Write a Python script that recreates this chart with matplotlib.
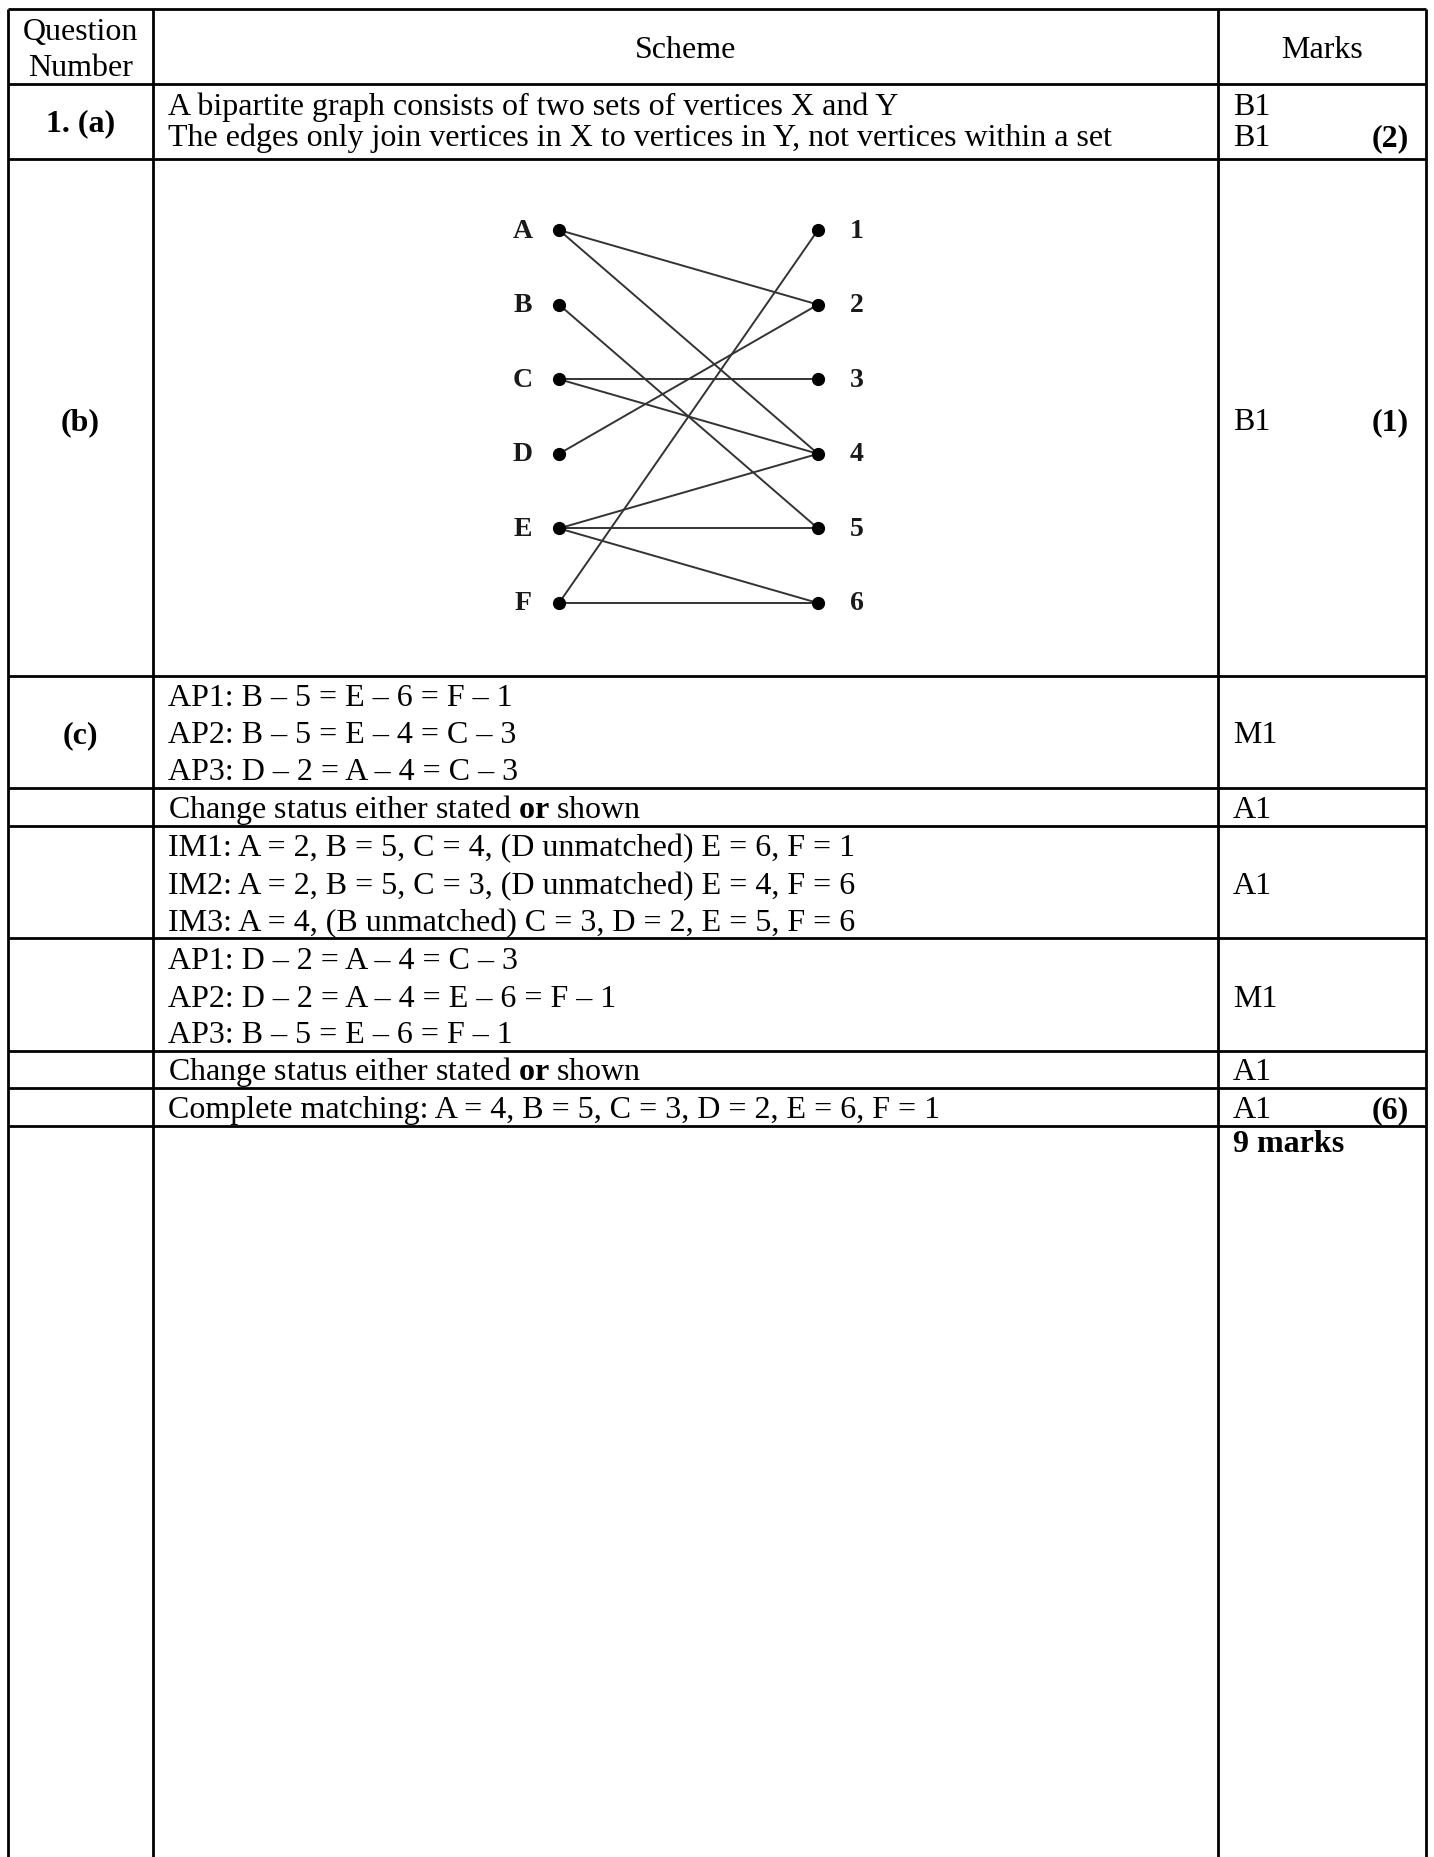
import matplotlib.pyplot as plt

plt.rcParams['font.family'] = ['Liberation Serif', 'DejaVu Serif']
plt.rcParams['mathtext.fontset'] = 'custom'
plt.rcParams['mathtext.rm'] = 'Liberation Serif'
plt.rcParams['mathtext.bf'] = 'Liberation Serif:bold'

# graph data
left_nodes = ['A', 'B', 'C', 'D', 'E', 'F']
right_nodes = ['1', '2', '3', '4', '5', '6']
edges = [('A', '2'), ('A', '4'), ('B', '5'), ('C', '3'), ('C', '4'), ('D', '2'),
         ('E', '4'), ('E', '5'), ('E', '6'), ('F', '1'), ('F', '6')]

# table text
headers = ['Question\nNumber', 'Scheme', 'Marks']
qnums = ['1. (a)', '(b)', '(c)']
scheme_lines = [
    'A bipartite graph consists of two sets of vertices X and Y',
    'The edges only join vertices in X to vertices in Y, not vertices within a set',
    'AP1: B – 5 = E – 6 = F – 1',
    'AP2: B – 5 = E – 4 = C – 3',
    'AP3: D – 2 = A – 4 = C – 3',
    r'Change status either stated $\mathbf{or}$ shown',
    'IM1: A = 2, B = 5, C = 4, (D unmatched) E = 6, F = 1',
    'IM2: A = 2, B = 5, C = 3, (D unmatched) E = 4, F = 6',
    'IM3: A = 4, (B unmatched) C = 3, D = 2, E = 5, F = 6',
    'AP1: D – 2 = A – 4 = C – 3',
    'AP2: D – 2 = A – 4 = E – 6 = F – 1',
    'AP3: B – 5 = E – 6 = F – 1',
    r'Change status either stated $\mathbf{or}$ shown',
    'Complete matching: A = 4, B = 5, C = 3, D = 2, E = 6, F = 1',
]
marks = ['B1', 'B1', 'B1', 'M1', 'A1', 'A1', 'M1', 'A1', 'A1']
totals = ['(2)', '(1)', '(6)']
grand_total = '9 marks'

# layout (pixels, y down)
W, H = 1434, 1858
col_x = [8, 153, 1218, 1426]
row_y = [10, 84.5, 159.5, 677, 789, 827, 939, 1052, 1089, 1127]
scheme_base = [115, 146, 706, 743, 780, 818, 856, 894, 931, 969, 1007, 1043, 1080, 1118]
marks_base = [115, 146, 430, 743, 818, 894, 1007, 1080, 1118]
totals_base = [146, 430, 1118]
qnum_base = [131, 430, 743]
FS = 23

fig = plt.figure(figsize=(W / 100, H / 100), dpi=100)
ax = fig.add_axes([0, 0, 1, 1])
ax.set_xlim(0, W)
ax.set_ylim(H, 0)
ax.axis('off')

lw = 2.0
for x in col_x:
    ax.plot([x, x], [row_y[0], H], color='black', lw=lw, solid_capstyle='butt')
for y in row_y:
    ax.plot([col_x[0], col_x[-1]], [y, y], color='black', lw=lw, solid_capstyle='butt')

# header
c1 = (col_x[0] + col_x[1]) / 2
c2 = (col_x[1] + col_x[2]) / 2
c3 = (col_x[2] + col_x[3]) / 2
ax.text(c1, 40, 'Question', ha='center', va='baseline', fontsize=FS)
ax.text(c1, 76, 'Number', ha='center', va='baseline', fontsize=FS)
ax.text(c2, 58, headers[1], ha='center', va='baseline', fontsize=FS)
ax.text(c3, 58, headers[2], ha='center', va='baseline', fontsize=FS)

for t, y in zip(qnums, qnum_base):
    ax.text(c1, y, t, ha='center', va='baseline', fontsize=FS, fontweight='bold')
for t, y in zip(scheme_lines, scheme_base):
    ax.text(168, y, t, ha='left', va='baseline', fontsize=FS)
for t, y in zip(marks, marks_base):
    ax.text(1233, y, t, ha='left', va='baseline', fontsize=FS)
for t, y in zip(totals, totals_base):
    ax.text(1409, y, t, ha='right', va='baseline', fontsize=FS, fontweight='bold')
ax.text(1233, 1152, grand_total, ha='left', va='baseline', fontsize=FS, fontweight='bold')

# bipartite graph in its own axes: x 0 = left set, x 1 = right set
gx0, gx1 = 559, 818
gy0, gstep = 231, 74.6
left_px = gx0 - 0.5 * (gx1 - gx0)
top_px = gy0 - 0.5 * gstep
gw = 2 * (gx1 - gx0)
gh = 6 * gstep
gax = fig.add_axes([left_px / W, 1 - (top_px + gh) / H, gw / W, gh / H])
gax.set_xlim(-0.5, 1.5)
gax.set_ylim(5.5, -0.5)
gax.axis('off')

ly = {n: i for i, n in enumerate(left_nodes)}
ry = {n: i for i, n in enumerate(right_nodes)}
for a, b in edges:
    gax.plot([0, 1], [ly[a], ry[b]], color='#333333', lw=1.4, zorder=1)
gax.plot([0] * len(left_nodes), range(len(left_nodes)), 'o', color='black', ms=8.5, zorder=2)
gax.plot([1] * len(right_nodes), range(len(right_nodes)), 'o', color='black', ms=8.5, zorder=2)
for i, n in enumerate(left_nodes):
    gax.text(-0.14, i, n, ha='center', va='center', fontsize=20, fontweight='bold', color='#1a1a1a')
for i, n in enumerate(right_nodes):
    gax.text(1.15, i, n, ha='center', va='center', fontsize=20, fontweight='bold', color='#1a1a1a')

fig.savefig('out.png', dpi=100)
